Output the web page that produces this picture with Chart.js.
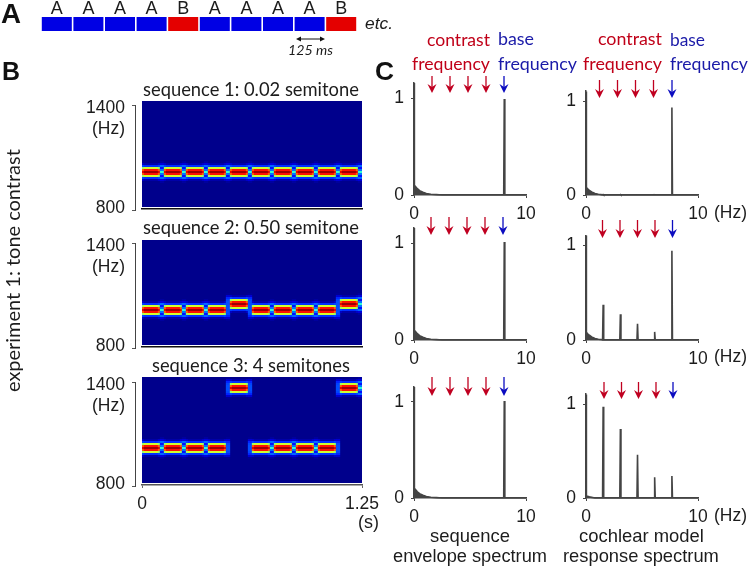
<!DOCTYPE html>
<html><head><meta charset="utf-8">
<script src="https://cdn.jsdelivr.net/npm/chart.js@4"></script>
<style>
html,body{margin:0;padding:0;background:#fff;width:749px;height:567px;overflow:hidden}
#stage{position:relative;width:749px;height:567px;overflow:hidden;filter:blur(.3px)}
canvas{position:absolute}
span.t{position:absolute;white-space:pre;line-height:1;transform-origin:0 0}
svg{position:absolute;left:0;top:0}
</style></head><body><div id="stage"></div>
<script>
// ---------- data ----------
const toneLetters = ['A','A','A','A','B','A','A','A','A','B'];
const toneColors  = {A:'#0000e4',B:'#e40000'};
const toneBar     = [0,1];
const heatTicksHz = [800,1400];
const timeTicks   = [0,1.25];
const specTicksX  = [0,10];
const specTicksY  = [0,1];

// centre frequency (Hz) of tones A and B in each sequence
const seq1Hz = {A:1011,B:1011};
const seq2Hz = {A:1011,B:1046};
const seq3Hz = {A:1011,B:1354};

// colour level (0-1) by distance in rows from the tone centre
const levelFull = [.97,.86,.58,.17,.04];
const levelEdge = [.90,.78,.52,.19,.07];
const levelGap  = [.42,.24,.14,.23,.09,.03];
const levelHalo = [.20,.20,.19,.16,.08,.02];

// low-frequency shoulder of each spectrum
const envHumpX  = [0,0.02,0.05,0.15,0.3,0.5,0.8,1.1,1.5,2.0,2.5];
const envHumpY  = [1.155,1.155,0.10,0.085,0.065,0.045,0.028,0.016,0.008,0.004,0];
const cochHumpX = [0,0.02,0.05,0.15,0.3,0.5,0.8,1.1,1.5,2.0];
const cochHumpY = [1.10,1.10,0.08,0.065,0.05,0.032,0.015,0.008,0.003,0];
const coch3HumpX= [0,0.02,0.05,0.3,0.8];
const coch3HumpY= [1.10,1.10,0.02,0.012,0];

const envBaseHz   = [8.06];
const envRow1     = [0.99];
const envRow2     = [1.01];
const envRow3     = [1.01];
const cochFreqs   = [1.53,3.07,4.60,6.13,7.67];
const cochRow1    = [0.005,0.005,0.002,0.002,0.93];
const cochRow2    = [0.37,0.27,0.17,0.085,0.94];
const cochRow3    = [0.97,0.735,0.46,0.22,0.235];

// ---------- layout ----------
const stage = document.getElementById('stage');
const SANS = '"Liberation Sans",Arial,sans-serif';
const HUM  = 'Lato,"Open Sans",sans-serif';
const INK  = '#1c1c1c';
const AXIS = '#444';
const measure = document.createElement('canvas').getContext('2d');

function text(str,x0,x1,yc,family,color,style){
  style = style||'';
  measure.font = style+' 100px '+family;
  const w = measure.measureText(str).width;
  const size = 100*(x1-x0)/w;
  const s = document.createElement('span');
  s.className='t'; s.textContent=str;
  s.style.cssText = `left:${x0}px;top:${yc-size*0.54}px;font:${style} ${size}px ${family};line-height:1;color:${color}`;
  stage.appendChild(s);
  return s;
}
function place(rect,m,config,xShown,yShown,xTop){
  const c = document.createElement('canvas');
  const W = rect.r-rect.l+m.l+m.r, H = rect.b-rect.t+m.t+m.b;
  c.width=W; c.height=H;
  c.style.left=(rect.l-m.l)+'px'; c.style.top=(rect.t-m.t)+'px';
  c.style.width=W+'px'; c.style.height=H+'px';
  stage.appendChild(c);
  config.options = Object.assign({
    responsive:false,animation:false,devicePixelRatio:1,
    layout:{padding:{left:yShown?0:m.l,right:m.r,top:xTop?0:m.t,bottom:xShown?0:m.b}},
    plugins:{legend:{display:false},tooltip:{enabled:false}},
    events:[]
  },config.options);
  if(config.options.scales.x.display!==false) config.options.scales.x.afterFit=s=>{s.height=xTop?m.t:m.b};
  if(config.options.scales.y.display!==false) config.options.scales.y.afterFit=s=>{s.width=m.l};
  return new Chart(c,config);
}

// ---------- panel A ----------
place({l:41,t:17,r:357,b:29},{l:2,t:17,r:4,b:2},{
  type:'bar',
  data:{labels:toneLetters,datasets:[{data:toneLetters.map(()=>toneBar),
    backgroundColor:toneLetters.map(k=>toneColors[k]),borderWidth:0,categoryPercentage:1,barPercentage:.95}]},
  options:{scales:{
    x:{position:'top',grid:{display:false,drawTicks:false},border:{display:false},
       ticks:{color:INK,font:{family:SANS,size:18},padding:-3,autoSkip:false,maxRotation:0}},
    y:{display:false,min:0,max:1}
  }}
},true,false,true);

// ---------- panel B : heat maps ----------
const CELL_W = 1.25/110, ROW_PX = 2, HZ_PX = 600/105, ROW_HZ = ROW_PX*HZ_PX;

function jet(l){
  const f=v=>Math.round(255*Math.max(0,Math.min(1,1.5-Math.abs(v))));
  return `rgb(${f(4*l-3)},${f(4*l-2)},${f(4*l-1)})`;
}
function heatDatasets(freqs,top,bottom){
  const maxHz = 800+(bottom-top)*HZ_PX;
  const grid = new Map();
  const put=(col,row,lev)=>{
    if(!grid.has(row)) grid.set(row,new Map());
    const m=grid.get(row); m.set(col,Math.max(m.get(col)||0,lev));
  };
  const stamp=(col,hz,prof)=>{
    const r0=Math.floor((hz-800)/ROW_HZ);
    prof.forEach((lev,d)=>{put(col,r0+d,lev); put(col,r0-d,lev);});
  };
  toneLetters.forEach((k,slot)=>{
    const hz=freqs[k];
    const next=toneLetters[slot+1]||k;
    for(let p=0;p<11;p++){
      const col=slot*11+p;
      if(p<9) stamp(col,hz,(p===0||p===8)?levelEdge:levelFull);
      else if(freqs[next]===hz) stamp(col,hz,levelGap);
      else { stamp(col,hz,levelHalo); stamp(col,freqs[next],levelHalo); }
    }
  });
  const sets=[];
  grid.forEach((m,row)=>{
    const data=[],colors=[];
    m.forEach((lev,col)=>{
      data.push({x:(col+.5)*CELL_W,y:[800+row*ROW_HZ,800+(row+1)*ROW_HZ]});
      colors.push(jet(lev));
    });
    sets.push({data,backgroundColor:colors,borderWidth:0,grouped:false,categoryPercentage:1,barPercentage:1.15});
  });
  const bg=[];
  for(let i=0;i<110;i++) bg.push({x:(i+.5)*CELL_W,y:[800+ROW_HZ,maxHz]});
  sets.push({data:bg,backgroundColor:'#00008c',borderWidth:0,grouped:false,categoryPercentage:1,barPercentage:1.5});
  return {sets,maxHz};
}
function heat(freqs,top,bottom,showTicks){
  const {sets,maxHz}=heatDatasets(freqs,top,bottom);
  place({l:142,t:top,r:362,b:bottom},{l:24,t:2,r:32,b:showTicks?30:3},{
    type:'bar',data:{datasets:sets},
    options:{scales:{
      x:{type:'linear',offset:false,min:timeTicks[0],max:timeTicks[1],
         afterBuildTicks:s=>{s.ticks=timeTicks.map(v=>({value:v}))},
         grid:{display:showTicks,offset:false,drawOnChartArea:false,drawTicks:showTicks,tickLength:3,color:'#666'},
         border:{display:true,color:showTicks?'#555':'#111',width:1.5},
         ticks:{display:showTicks,color:INK,font:{family:SANS,size:17.5},padding:6,maxRotation:0,
                callback:v=>String(v)}},
      y:{display:false,min:800,max:maxHz}
    }}
  },true,false,false);
}
function heatAxis(top,bottom){
  const hi=heatTicksHz[1];
  place({l:135,t:top,r:136,b:bottom},{l:50,t:22,r:0,b:22},{
    type:'line',data:{labels:[],datasets:[]},
    options:{scales:{
      x:{display:false},
      y:{min:heatTicksHz[0],max:hi,
         afterBuildTicks:s=>{s.ticks=heatTicksHz.map(v=>({value:v}))},
         grid:{display:true,drawOnChartArea:false,drawTicks:true,tickLength:3,color:'#555'},
         border:{display:true,color:'#444',width:1},
         ticks:{color:INK,padding:7,
                font:c=>({family:SANS,size:17.5,lineHeight:(c.tick&&c.tick.value===hi)?'6px':'4px'}),
                callback:v=>v===hi?['',String(v)]:[String(v),'']}}
    }}
  },false,true,false);
}
heat(seq1Hz,101,209,false); heatAxis(105,210);
heat(seq2Hz,240,347,false); heatAxis(243,348);
heat(seq3Hz,377,485,true);  heatAxis(382,486);

// ---------- panel C : spectra ----------
function spectrum(r,humpX,humpY,freqs,vals){
  const pts=humpX.map((x,i)=>({x,y:humpY[i]}));
  freqs.forEach((f,i)=>{ pts.push({x:f-.05,y:0},{x:f,y:vals[i]},{x:f+.05,y:0}); });
  pts.push({x:10,y:0});
  const unit=(r.y0-r.y1), M=(r.y0-r.top)/unit;
  place({l:r.x0,t:r.top,r:r.x10,b:r.y0},{l:40,t:20,r:20,b:34},{
    type:'line',
    data:{datasets:[{data:pts,parsing:false,borderColor:'#444',backgroundColor:'#444',borderWidth:1.6,
      pointRadius:0,tension:0,fill:'origin',clip:false}]},
    options:{scales:{
      x:{type:'linear',min:specTicksX[0],max:specTicksX[1],
         afterBuildTicks:s=>{s.ticks=specTicksX.map(v=>({value:v}))},
         grid:{display:true,drawOnChartArea:false,drawTicks:true,tickLength:3,color:AXIS},
         border:{display:true,color:AXIS,width:1.5},
         ticks:{color:INK,font:{family:SANS,size:17.5},padding:6,maxRotation:0,callback:v=>String(v)}},
      y:{min:0,max:M,
         afterBuildTicks:s=>{s.ticks=specTicksY.map(v=>({value:v}))},
         grid:{display:true,drawOnChartArea:false,drawTicks:true,tickLength:3,color:AXIS},
         border:{display:true,color:AXIS,width:1.5},
         ticks:{color:INK,font:{family:SANS,size:17.5},padding:7,callback:v=>String(v)}}
    }}
  },true,true,false);
}
const LX={x0:414,x10:526}, RX={x0:586,x10:698};
spectrum({...LX,y0:195,y1:98,top:83},envHumpX,envHumpY,envBaseHz,envRow1);
spectrum({...LX,y0:340,y1:243,top:228},envHumpX,envHumpY,envBaseHz,envRow2);
spectrum({...LX,y0:498,y1:402,top:387},envHumpX,envHumpY,envBaseHz,envRow3);
spectrum({...RX,y0:195,y1:101,top:91},cochHumpX,cochHumpY,cochFreqs,cochRow1);
spectrum({...RX,y0:340,y1:245,top:236},cochHumpX,cochHumpY,cochFreqs,cochRow2);
spectrum({...RX,y0:498,y1:404,top:394},coch3HumpX,coch3HumpY,cochFreqs,cochRow3);

// ---------- annotation arrows ----------
const RED='#c00020', BLUE='#0c0cc0';
const arrowRows=[
  {y0:76,y1:93,xs:[432,450,468,486,504]},
  {y0:80,y1:98,xs:[599.5,617.5,635.5,653.5,672]},
  {y0:217,y1:235,xs:[431,449,467,485,503]},
  {y0:220,y1:238,xs:[602.5,620,637.5,655,672.5]},
  {y0:377,y1:396,xs:[432,450,468,486,504]},
  {y0:382,y1:399,xs:[604,621.5,638.5,656,673]}
];
let svg='<svg width="749" height="567" xmlns="http://www.w3.org/2000/svg">';
arrowRows.forEach(a=>a.xs.forEach((x,i)=>{
  const col=i===4?BLUE:RED;
  svg+=`<path d="M${x} ${a.y0}V${a.y1-3}" stroke="${col}" stroke-width="1.3" fill="none"/>`+
       `<path d="M${x-4.5} ${a.y1-9}L${x} ${a.y1}L${x+4.5} ${a.y1-9}L${x} ${a.y1-6}Z" fill="${col}"/>`;
}));
svg+='<path d="M299 39H322" stroke="#111" stroke-width="1"/>'+
     '<path d="M296 39L301 36.5V41.5Z M325 39L320 36.5V41.5Z" fill="#111"/></svg>';
stage.insertAdjacentHTML('beforeend',svg);

// ---------- text ----------
text('A',1,21,15,SANS,'#111','bold');
text('B',2,20,72,SANS,'#111','bold');
text('C',375,394,72,SANS,'#111','bold');
text('etc.',365,393,24,SANS,INK,'italic');
text('125 ms',288,333,51,HUM,INK,'italic');
text('sequence 1: 0.02 semitone',143,359,90,HUM,INK);
text('sequence 2: 0.50 semitone',143,359,228,HUM,INK);
text('sequence 3: 4 semitones',152,350,366,HUM,INK);
[129,267,406].forEach(y=>text('(Hz)',92,125,y,SANS,INK));
text('(s)',358,379,523,SANS,INK);
[213,357,516].forEach(y=>text('(Hz)',714,747,y,SANS,INK));
const CRED='#c00018', CBLUE='#1a1aa8';
[[427,490,412],[598,662,583]].forEach(c=>{
  text('contrast',c[0],c[1],40,HUM,CRED);
  text('frequency',c[2],c[1],65,HUM,CRED);
});
[[498,534,577],[670,705,748]].forEach(c=>{
  text('base',c[0],c[1],40,HUM,CBLUE);
  text('frequency',c[0],c[2],65,HUM,CBLUE);
});
text('sequence',430,510,537,SANS,INK);
text('envelope spectrum',393,547,557,SANS,INK);
text('cochlear model',579,704,537,SANS,INK);
text('response spectrum',563,719,557,SANS,INK);
// rotated label
const lab=text('experiment 1: tone contrast',0,243,0,HUM,INK);
lab.style.left='3px'; lab.style.top='392px'; lab.style.transform='rotate(-90deg)';
</script></body></html>
